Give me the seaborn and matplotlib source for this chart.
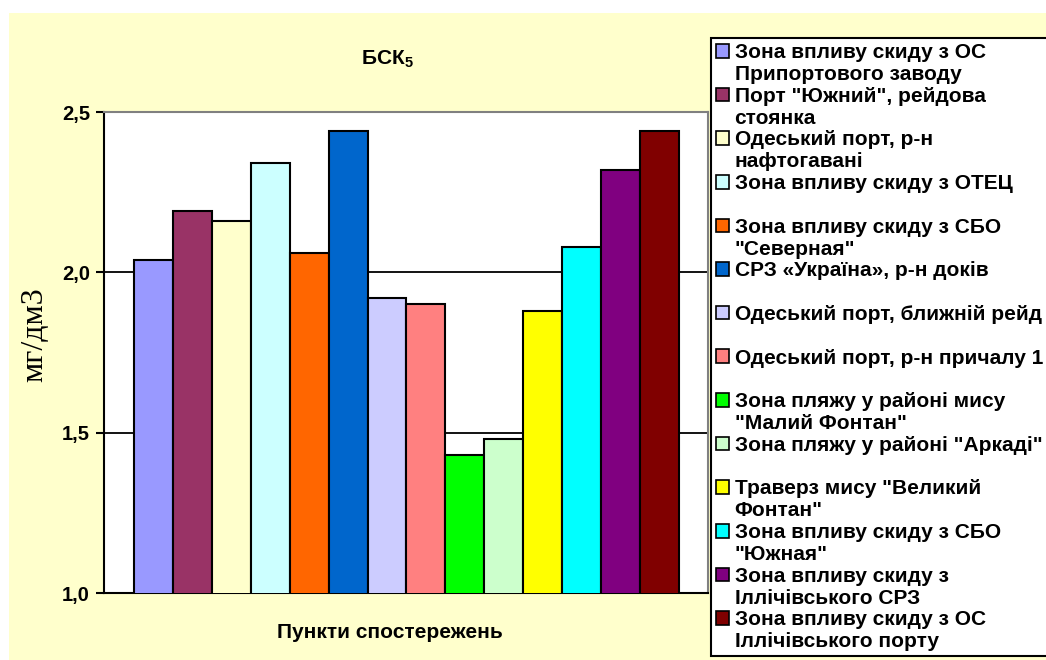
import matplotlib
matplotlib.use("Agg")
import matplotlib.pyplot as plt
from matplotlib.patches import Patch, Rectangle
import pandas as pd
import seaborn as sns

# Observation points (legend text, "\n" marks where the legend wraps)
stations = [
    "Зона впливу скиду з ОС\nПрипортового заводу",
    "Порт \"Южний\", рейдова\nстоянка",
    "Одеський порт, р-н\nнафтогавані",
    "Зона впливу скиду з ОТЕЦ",
    "Зона впливу скиду з СБО\n\"Северная\"",
    "СРЗ «Україна», р-н доків",
    "Одеський порт, ближній рейд",
    "Одеський порт, р-н причалу 1",
    "Зона пляжу у районі мису\n\"Малий Фонтан\"",
    "Зона пляжу у районі \"Аркаді\"",
    "Траверз мису \"Великий\nФонтан\"",
    "Зона впливу скиду з СБО\n\"Южная\"",
    "Зона впливу скиду з\nІллічівського СРЗ",
    "Зона впливу скиду з ОС\nІллічівського порту",
]

# BOD5 values, mg/dm3
bod5 = [2.04, 2.19, 2.16, 2.34, 2.06, 2.44, 1.92, 1.90, 1.43, 1.48, 1.88, 2.08, 2.32, 2.44]

bar_colors = [
    "#9999FF", "#993366", "#FFFFCC", "#CCFFFF", "#FF6600", "#0066CC", "#CCCCFF",
    "#FF8080", "#00FF00", "#CCFFCC", "#FFFF00", "#00FFFF", "#800080", "#800000",
]

y_ticks = [1.0, 1.5, 2.0, 2.5]
y_tick_labels = ["1,0", "1,5", "2,0", "2,5"]

title_text = "БСК$_{\\mathbf{5}}$"
x_title = "Пункти спостережень"
y_title = "мг/дм3"

plt.rcParams["font.family"] = ["Liberation Sans", "DejaVu Sans"]
plt.rcParams["mathtext.fontset"] = "custom"
plt.rcParams["mathtext.rm"] = "Liberation Sans:bold"
plt.rcParams["mathtext.bf"] = "Liberation Sans:bold"

df = pd.DataFrame({"station": stations, "bod5": bod5})

W, H = 1046, 660
fig = plt.figure(figsize=(W / 100, H / 100), dpi=100)
fig.patch.set_facecolor("white")
# chart area background
fig.patches.append(Rectangle((9 / W, 0), 1, 1 - 13 / H, transform=fig.transFigure,
                             facecolor="#FFFFCC", edgecolor="none", zorder=-10))

ax = fig.add_axes([104 / W, (H - 593) / H, 604 / W, 481 / H])
ax.set_facecolor("white")

sns.barplot(data=df, x="station", y="bod5", hue="station", palette=bar_colors,
            width=1.0, dodge=False, legend=False, edgecolor="black", linewidth=1.5,
            saturation=1, ax=ax, zorder=3)

ax.set_ylim(1.0, 2.5)
ax.set_xlim(-1.27, 14.245)
ax.set_yticks(y_ticks)
ax.set_yticklabels(y_tick_labels, fontsize=14.5, fontweight="bold")
ax.set_xticks([])
ax.set_xlabel("")
ax.set_ylabel("")
ax.tick_params(axis="y", direction="out", length=6, width=1.5, pad=4, colors="black")

for y in (1.5, 2.0):
    ax.axhline(y, color="black", lw=1.3, zorder=1)

ax.spines["left"].set_color("black")
ax.spines["left"].set_linewidth(1.5)
ax.spines["bottom"].set_color("black")
ax.spines["bottom"].set_linewidth(1.5)
ax.spines["top"].set_color("#808080")
ax.spines["top"].set_linewidth(1.5)
ax.spines["right"].set_color("#808080")
ax.spines["right"].set_linewidth(1.5)

fig.text(387 / W, 1 - 59 / H, title_text, ha="center", va="center",
         fontsize=15, fontweight="bold")
fig.text(390 / W, 1 - 633 / H, x_title, ha="center", va="center",
         fontsize=15, fontweight="bold")
fig.text(35 / W, 1 - 335 / H, y_title, ha="center", va="center", rotation=90,
         fontsize=23, family=["Liberation Serif", "DejaVu Serif"])

# legend: two text rows per station, square marker on the first row
handles, labels = [], []
for name, color in zip(stations, bar_colors):
    lines = name.split("\n")
    while len(lines) < 2:
        lines.append(" ")
    handles.append(Patch(facecolor=color, edgecolor="black", linewidth=1.2))
    labels.append(lines[0])
    for extra in lines[1:]:
        handles.append(Patch(facecolor="none", edgecolor="none"))
        labels.append(extra)

leg = fig.legend(handles, labels, loc="upper left",
                 bbox_to_anchor=(711 / W, 1 - 657 / H, 420 / W, (657 - 38) / H),
                 mode="expand", borderaxespad=0, borderpad=0.25,
                 handlelength=0.63, handleheight=0.63, handletextpad=0.25,
                 labelspacing=0.135, fancybox=False, framealpha=1,
                 prop={"family": "Liberation Sans", "weight": "bold", "size": 15})
leg.get_frame().set_edgecolor("black")
leg.get_frame().set_linewidth(1.5)

fig.savefig("out.png", dpi=100)
